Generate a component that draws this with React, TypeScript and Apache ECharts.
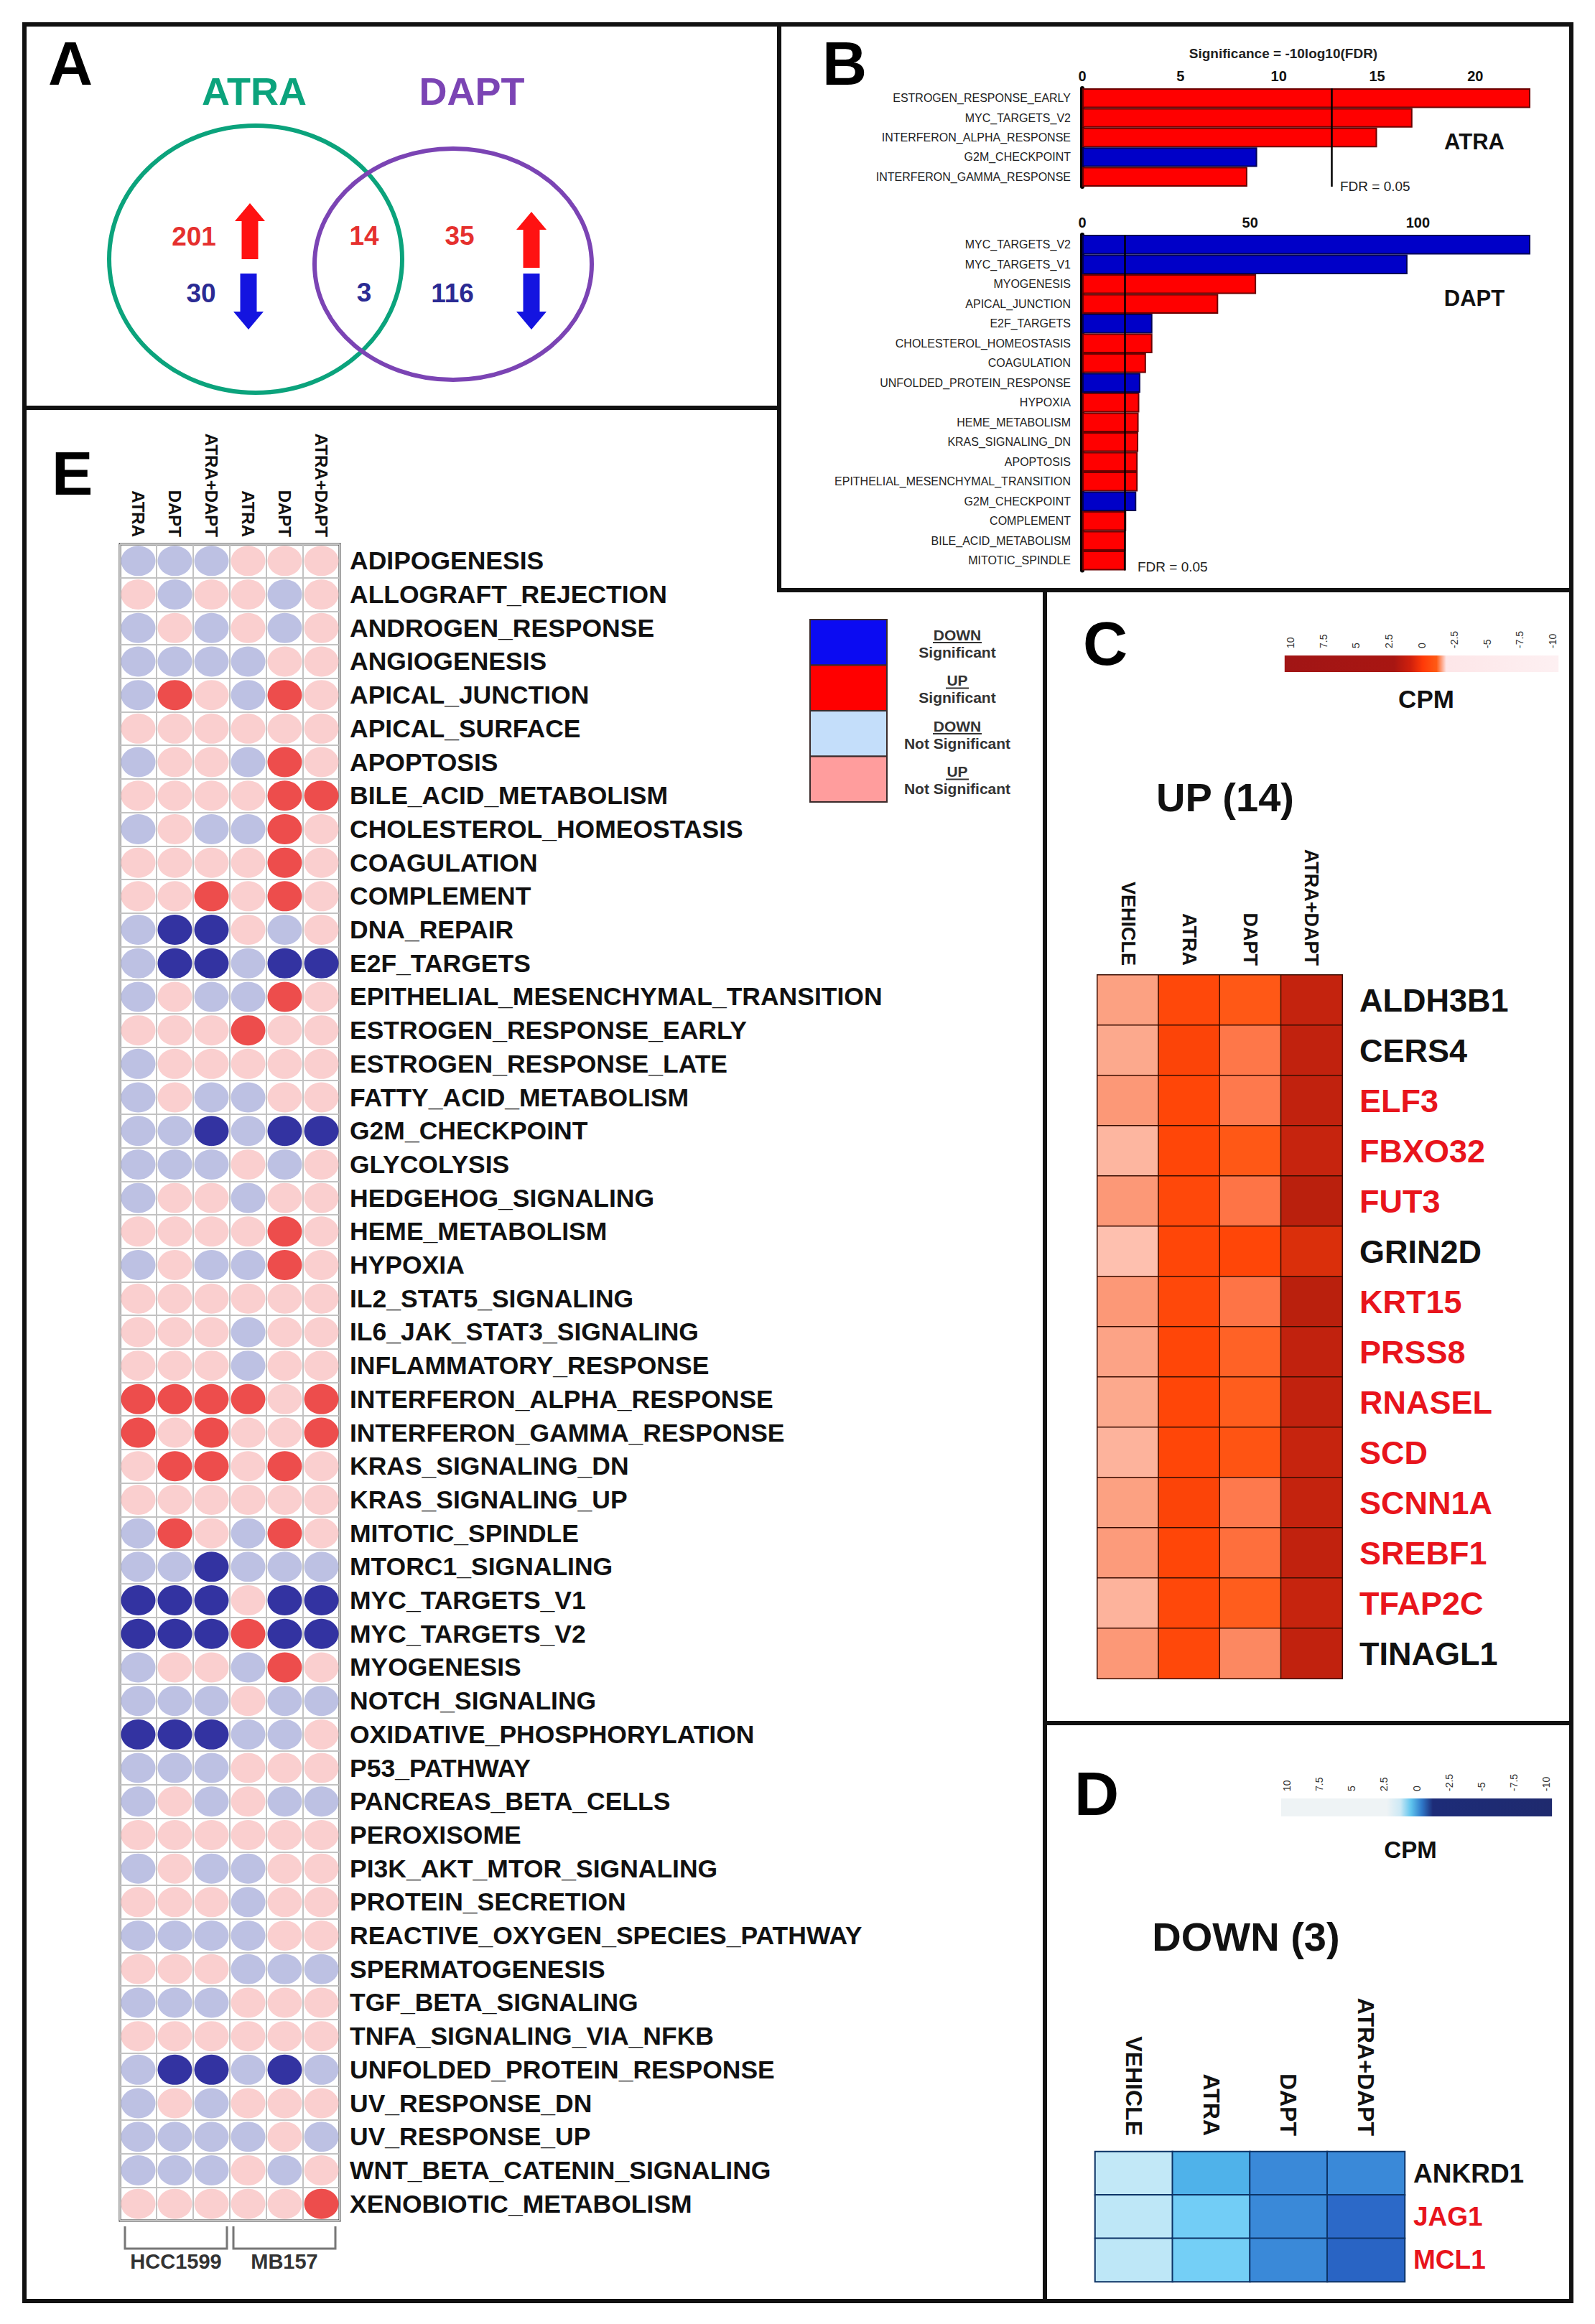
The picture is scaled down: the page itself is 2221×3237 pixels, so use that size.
import React, { useEffect, useRef } from "react";
import * as echarts from "echarts";

const SANS = "'Liberation Sans', Arial, Helvetica, sans-serif";

// ---------------- Panel A : Venn counts ----------------
const vennNames = ["ATRA", "DAPT"];
const vennUpCounts = [201, 14, 35]; // ATRA only, shared, DAPT only
const vennDownCounts = [30, 3, 116];

// ---------------- Panel B : enrichment significance ----------------
const atraTerms = [
  "ESTROGEN_RESPONSE_EARLY",
  "MYC_TARGETS_V2",
  "INTERFERON_ALPHA_RESPONSE",
  "G2M_CHECKPOINT",
  "INTERFERON_GAMMA_RESPONSE",
];
const atraSignificance = [22.8, 16.8, 15.0, 8.9, 8.4];
const atraDirection = ["up", "up", "up", "down", "up"];

const daptTerms = [
  "MYC_TARGETS_V2",
  "MYC_TARGETS_V1",
  "MYOGENESIS",
  "APICAL_JUNCTION",
  "E2F_TARGETS",
  "CHOLESTEROL_HOMEOSTASIS",
  "COAGULATION",
  "UNFOLDED_PROTEIN_RESPONSE",
  "HYPOXIA",
  "HEME_METABOLISM",
  "KRAS_SIGNALING_DN",
  "APOPTOSIS",
  "EPITHELIAL_MESENCHYMAL_TRANSITION",
  "G2M_CHECKPOINT",
  "COMPLEMENT",
  "BILE_ACID_METABOLISM",
  "MITOTIC_SPINDLE",
];
const daptSignificance = [133.5, 96.9, 51.8, 40.5, 20.9, 20.9, 19.0, 17.3, 17.0, 16.8, 16.7, 16.5, 16.5, 16.1, 13.1, 12.9, 12.8];
const daptDirection = ["down", "down", "up", "up", "down", "up", "up", "down", "up", "up", "up", "up", "up", "down", "up", "up", "up"];
const fdrThreshold = 12.7;

// ---------------- Panel E : hallmark status ----------------
const eColumns = ["ATRA", "DAPT", "ATRA+DAPT", "ATRA", "DAPT", "ATRA+DAPT"];
const cellLines = ["HCC1599", "MB157"];
const hallmarks = [
  "ADIPOGENESIS", "ALLOGRAFT_REJECTION", "ANDROGEN_RESPONSE", "ANGIOGENESIS", "APICAL_JUNCTION",
  "APICAL_SURFACE", "APOPTOSIS", "BILE_ACID_METABOLISM", "CHOLESTEROL_HOMEOSTASIS", "COAGULATION",
  "COMPLEMENT", "DNA_REPAIR", "E2F_TARGETS", "EPITHELIAL_MESENCHYMAL_TRANSITION", "ESTROGEN_RESPONSE_EARLY",
  "ESTROGEN_RESPONSE_LATE", "FATTY_ACID_METABOLISM", "G2M_CHECKPOINT", "GLYCOLYSIS", "HEDGEHOG_SIGNALING",
  "HEME_METABOLISM", "HYPOXIA", "IL2_STAT5_SIGNALING", "IL6_JAK_STAT3_SIGNALING", "INFLAMMATORY_RESPONSE",
  "INTERFERON_ALPHA_RESPONSE", "INTERFERON_GAMMA_RESPONSE", "KRAS_SIGNALING_DN", "KRAS_SIGNALING_UP", "MITOTIC_SPINDLE",
  "MTORC1_SIGNALING", "MYC_TARGETS_V1", "MYC_TARGETS_V2", "MYOGENESIS", "NOTCH_SIGNALING",
  "OXIDATIVE_PHOSPHORYLATION", "P53_PATHWAY", "PANCREAS_BETA_CELLS", "PEROXISOME", "PI3K_AKT_MTOR_SIGNALING",
  "PROTEIN_SECRETION", "REACTIVE_OXYGEN_SPECIES_PATHWAY", "SPERMATOGENESIS", "TGF_BETA_SIGNALING", "TNFA_SIGNALING_VIA_NFKB",
  "UNFOLDED_PROTEIN_RESPONSE", "UV_RESPONSE_DN", "UV_RESPONSE_UP", "WNT_BETA_CATENIN_SIGNALING", "XENOBIOTIC_METABOLISM",
];
// 0 = UP not significant, 1 = DOWN not significant, 2 = UP significant, 3 = DOWN significant
const hallmarkStates = [
  [1, 1, 1, 0, 0, 0], [0, 1, 0, 0, 1, 0], [1, 0, 1, 0, 1, 0], [1, 1, 1, 1, 0, 0], [1, 2, 0, 1, 2, 0],
  [0, 0, 0, 0, 0, 0], [1, 0, 0, 1, 2, 0], [0, 0, 0, 0, 2, 2], [1, 0, 1, 1, 2, 0], [0, 0, 0, 0, 2, 0],
  [0, 0, 2, 0, 2, 0], [1, 3, 3, 0, 1, 0], [1, 3, 3, 1, 3, 3], [1, 0, 1, 1, 2, 0], [0, 0, 0, 2, 0, 0],
  [1, 0, 0, 0, 0, 0], [1, 0, 1, 1, 0, 0], [1, 1, 3, 1, 3, 3], [1, 1, 1, 0, 1, 0], [1, 0, 0, 1, 0, 0],
  [0, 0, 0, 0, 2, 0], [1, 0, 1, 1, 2, 0], [0, 0, 0, 0, 0, 0], [0, 0, 0, 1, 0, 0], [0, 0, 0, 1, 0, 0],
  [2, 2, 2, 2, 0, 2], [2, 0, 2, 0, 0, 2], [0, 2, 2, 0, 2, 0], [0, 0, 0, 0, 0, 0], [1, 2, 0, 1, 2, 0],
  [1, 1, 3, 1, 1, 1], [3, 3, 3, 0, 3, 3], [3, 3, 3, 2, 3, 3], [1, 0, 0, 1, 2, 0], [1, 1, 1, 0, 1, 1],
  [3, 3, 3, 1, 1, 0], [1, 1, 1, 0, 0, 0], [1, 0, 1, 0, 1, 1], [0, 0, 0, 0, 0, 0], [1, 0, 1, 1, 0, 0],
  [0, 0, 0, 1, 0, 0], [1, 1, 1, 1, 0, 0], [0, 0, 0, 1, 1, 1], [1, 1, 1, 0, 0, 0], [0, 0, 0, 0, 0, 0],
  [1, 3, 3, 1, 3, 1], [1, 0, 1, 0, 0, 0], [1, 1, 1, 1, 0, 1], [1, 1, 1, 0, 1, 0], [0, 0, 0, 0, 0, 2],
];
const legendTop = ["DOWN", "UP", "DOWN", "UP"];
const legendBottom = ["Significant", "Significant", "Not Significant", "Not Significant"];

// ---------------- Panels C and D : expression heatmaps ----------------
const conditions = ["VEHICLE", "ATRA", "DAPT", "ATRA+DAPT"];
const upGenes = ["ALDH3B1", "CERS4", "ELF3", "FBXO32", "FUT3", "GRIN2D", "KRT15", "PRSS8", "RNASEL", "SCD", "SCNN1A", "SREBF1", "TFAP2C", "TINAGL1"];
const upGenesHighlighted = ["ELF3", "FBXO32", "FUT3", "KRT15", "PRSS8", "RNASEL", "SCD", "SCNN1A", "SREBF1", "TFAP2C"];
const upVehicle = [2.3, 2.0, 2.6, 1.5, 2.6, 1.1, 2.6, 2.2, 2.0, 1.6, 2.3, 2.5, 1.6, 2.6];
const upAtra = [5.9, 6.1, 6.0, 6.0, 5.9, 6.0, 5.9, 6.0, 6.0, 6.0, 6.1, 6.0, 5.9, 5.9];
const upDapt = [5.1, 3.9, 3.8, 5.1, 4.0, 6.0, 4.0, 4.7, 4.9, 5.3, 3.8, 4.2, 4.9, 3.2];
const upCombo = [8.1, 8.2, 8.2, 8.0, 8.5, 7.3, 8.5, 8.2, 8.2, 8.0, 8.1, 8.2, 8.0, 8.2];

const downGenes = ["ANKRD1", "JAG1", "MCL1"];
const downGenesHighlighted = ["JAG1", "MCL1"];
const downVehicle = [-1.0, -1.05, -1.05];
const downAtra = [-3.0, -2.1, -2.05];
const downDapt = [-4.0, -4.0, -4.0];
const downCombo = [-4.0, -4.9, -5.05];

const cpmBarExtent = [10.45, -10.45];

// ---------------- styles ----------------
const stateColors = ["#f9c3c3", "#adb2dc", "#e8211f", "#00008a"];
const legendColors = ["#0b0bf2", "#ff0000", "#c4defa", "#ff9d9d"];
const upScale = ["#fff2ee", "#fec3b3", "#fca98d", "#fc8d68", "#fe7446", "#ff5a18", "#ff4608", "#e2340a", "#c6240e", "#ad1b0c"];
const downScale = ["#1d48a6", "#2a65c6", "#3a89d8", "#4fb2ea", "#76d0f7", "#c2e8f7", "#e6f5fa"];

function txt(text: string, x: number, y: number, size: number, o: any = {}) {
  return {
    type: "text",
    x,
    y,
    z: 20,
    style: {
      text,
      fontSize: size,
      fontWeight: o.weight || "bold",
      fontFamily: SANS,
      fill: o.fill || "#111",
      align: o.align || "center",
      verticalAlign: "middle",
    },
  };
}

function line(x1: number, y1: number, x2: number, y2: number, stroke = "#111", w = 6) {
  return { type: "line", z: 30, shape: { x1, y1, x2, y2 }, style: { stroke, lineWidth: w, lineCap: "square" } };
}

function arrow(cx: number, top: number, bottom: number, up: boolean, fill: string) {
  const hh = 25, hw = 21, sw = 11.5;
  const pts = up
    ? [[cx, top], [cx + hw, top + hh], [cx + sw, top + hh], [cx + sw, bottom], [cx - sw, bottom], [cx - sw, top + hh], [cx - hw, top + hh]]
    : [[cx, bottom], [cx + hw, bottom - hh], [cx + sw, bottom - hh], [cx + sw, top], [cx - sw, top], [cx - sw, bottom - hh], [cx - hw, bottom - hh]];
  return { type: "polygon", z: 15, shape: { points: pts }, style: { fill } };
}

function buildOption() {
  const graphics: any[] = [];

  // panel borders
  graphics.push(
    line(34, 34, 2188, 34), line(34, 34, 34, 3205), line(2188, 34, 2188, 3205), line(34, 3205, 2188, 3205),
    line(34, 568, 1085, 568), line(1085, 34, 1085, 822), line(1085, 822, 2188, 822),
    line(1455, 822, 1455, 3205), line(1455, 2400, 2188, 2400)
  );
  // panel letters
  [["A", 67, 88], ["B", 1145, 88], ["E", 72, 659], ["C", 1508, 896], ["D", 1496, 2498]].forEach(([t, x, y]) =>
    graphics.push(txt(t as string, x as number, y as number, 86, { align: "left", fill: "#000" }))
  );

  // ---- Panel A Venn ----
  const vennColors = ["#0ba37c", "#7b44b4"];
  const vennTitlePos = [[354, 127], [657, 127]];
  const vennShapes = [{ cx: 356, cy: 361, rx: 204, ry: 186 }, { cx: 631, cy: 368, rx: 193, ry: 161 }];
  vennNames.forEach((n, i) => {
    graphics.push(txt(n, vennTitlePos[i][0], vennTitlePos[i][1], 54, { fill: vennColors[i] }));
    graphics.push({ type: "ellipse", z: 12, shape: vennShapes[i], style: { fill: "none", stroke: vennColors[i], lineWidth: 6 } });
  });
  const upPos = [[270, 329], [507, 328], [640, 328]];
  const downPos = [[280, 408], [507, 407], [630, 408]];
  vennUpCounts.forEach((v, i) => graphics.push(txt(String(v), upPos[i][0], upPos[i][1], 37, { fill: "#e5302e" })));
  vennDownCounts.forEach((v, i) => graphics.push(txt(String(v), downPos[i][0], downPos[i][1], 37, { fill: "#2b2b93" })));
  graphics.push(arrow(348, 283, 361, true, "#ff1212"), arrow(346, 381, 459, false, "#1414e0"));
  graphics.push(arrow(740, 295, 373, true, "#ff1212"), arrow(740, 381, 459, false, "#1414e0"));

  // ---- Panel B texts ----
  graphics.push(txt("Significance = -10log10(FDR)", 1787, 74, 19, { fill: "#222" }));
  graphics.push(txt("ATRA", 2053, 197, 31, { fill: "#111" }));
  graphics.push(txt("DAPT", 2053, 415, 31, { fill: "#111" }));
  graphics.push(txt("FDR = 0.05", 1866, 259, 19, { align: "left", weight: "normal", fill: "#222" }));
  graphics.push(txt("FDR = 0.05", 1584, 789, 19, { align: "left", weight: "normal", fill: "#222" }));

  // ---- Panel E legend ----
  const boxTop = 863, boxH = 63.5;
  legendColors.forEach((c, i) => {
    const y0 = boxTop + i * boxH;
    graphics.push({ type: "rect", z: 14, shape: { x: 1128, y: y0, width: 107, height: boxH }, style: { fill: c, stroke: "#3a2a2a", lineWidth: 2 } });
    graphics.push(txt(legendTop[i], 1333, y0 + 21, 21, { fill: "#333" }));
    const uw = legendTop[i] === "DOWN" ? 33 : 15;
    graphics.push(line(1333 - uw, y0 + 32, 1333 + uw, y0 + 32, "#333", 2));
    graphics.push(txt(legendBottom[i], 1333, y0 + 45, 21, { fill: "#333" }));
  });
  // cell line brackets
  const brackets = [[174, 316], [325, 467]];
  cellLines.forEach((n, i) => {
    const [a, b] = brackets[i];
    graphics.push({ type: "polyline", z: 14, shape: { points: [[a, 3101], [a, 3132], [b, 3132], [b, 3101]] }, style: { stroke: "#777", lineWidth: 3, fill: "none" } });
    graphics.push(txt(n, (a + b) / 2, 3150, 29, { fill: "#333" }));
  });

  // ---- Panel C / D titles ----
  graphics.push(txt("UP (14)", 1706, 1110, 56, { fill: "#111" }));
  graphics.push(txt("CPM", 1986, 973, 35, { fill: "#111" }));
  graphics.push(txt("DOWN (3)", 1735, 2697, 56, { fill: "#111" }));
  graphics.push(txt("CPM", 1964, 2576, 33, { fill: "#111" }));

  // ---- series data ----
  const barItems = (vals: number[], dirs: string[]) =>
    vals.map((v, i) => ({
      value: v,
      itemStyle: {
        color: dirs[i] === "up" ? "#ff0000" : "#0000c8",
        borderColor: dirs[i] === "up" ? "#6a0000" : "#000055",
        borderWidth: 2,
      },
    }));

  const eData: any[] = [];
  hallmarkStates.forEach((row, r) =>
    row.forEach((s, c) => eData.push({ value: [c, r], itemStyle: { color: stateColors[s] } }))
  );

  const upCols = [upVehicle, upAtra, upDapt, upCombo];
  const upData: any[] = [];
  upCols.forEach((col, c) => col.forEach((v, r) => upData.push([c, r, v])));
  const downCols = [downVehicle, downAtra, downDapt, downCombo];
  const downData: any[] = [];
  downCols.forEach((col, c) => col.forEach((v, r) => downData.push([c, r, v])));

  const fmtEvery = (step: number) => (v: number) => (Math.abs(v / step - Math.round(v / step)) < 1e-9 ? String(v) : "");

  const bYAxis = (terms: string[], gi: number) => ({
    type: "category",
    gridIndex: gi,
    data: terms,
    inverse: true,
    axisLine: { show: true, lineStyle: { color: "#000", width: 6 } },
    axisTick: { show: false },
    axisLabel: { interval: 0, margin: 16, fontFamily: SANS, fontSize: 16, color: "#222" },
  });
  const bXAxis = (gi: number, max: number, interval: number) => ({
    type: "value",
    gridIndex: gi,
    position: "top",
    min: 0,
    max,
    interval,
    axisLine: { show: false },
    axisTick: { show: false },
    splitLine: { show: false },
    axisLabel: { margin: 7, fontFamily: SANS, fontWeight: "bold", fontSize: 20, color: "#111", formatter: fmtEvery(interval) },
  });
  const cbXAxis = (gi: number) => ({
    type: "value",
    gridIndex: gi,
    position: "top",
    min: -10,
    max: 10,
    interval: 2.5,
    inverse: true,
    axisLine: { show: false },
    axisTick: { show: false },
    splitLine: { show: false },
    axisLabel: { rotate: 90, margin: 10, fontSize: 14, fontFamily: SANS, color: "#333" },
  });
  const colorbar = (xi: number, stops: any[]) => ({
    type: "custom",
    xAxisIndex: xi,
    yAxisIndex: xi,
    data: [cpmBarExtent],
    renderItem: (params: any, api: any) => {
      const p0 = api.coord([api.value(0), 1]);
      const p1 = api.coord([api.value(1), 0]);
      return {
        type: "rect",
        shape: { x: p0[0], y: p0[1], width: p1[0] - p0[0], height: p1[1] - p0[1] },
        style: { fill: new echarts.graphic.LinearGradient(0, 0, 1, 0, stops) },
      };
    },
  });
  const cbYAxis = (gi: number) => ({ type: "value", gridIndex: gi, min: 0, max: 1, show: false });

  return {
    animation: false,
    backgroundColor: "#ffffff",
    textStyle: { fontFamily: SANS },
    grid: [
      { left: 1507, top: 123, width: 624, height: 137 },
      { left: 1507, top: 327, width: 624, height: 467.5 },
      { left: 167, top: 758, width: 306, height: 2335, show: true, backgroundColor: "#fff", borderColor: "#333", borderWidth: 3 },
      { left: 1528, top: 1358, width: 341, height: 980, show: true, borderColor: "#2a0800", borderWidth: 2 },
      { left: 1525, top: 2997, width: 431, height: 181, show: true, borderColor: "#0c2f60", borderWidth: 2 },
      { left: 1797, top: 913, width: 365, height: 23 },
      { left: 1792, top: 2505, width: 361, height: 25 },
    ],
    xAxis: [
      bXAxis(0, 22.8, 5),
      bXAxis(1, 133.5, 50),
      {
        type: "category",
        gridIndex: 2,
        position: "top",
        data: eColumns,
        axisLine: { show: false },
        axisTick: { show: false },
        splitLine: { show: true, interval: 0, lineStyle: { color: "#c2c2c2", width: 2 } },
        axisLabel: { interval: 0, rotate: 90, margin: 10, fontFamily: SANS, fontWeight: "bold", fontSize: 24, color: "#111" },
      },
      {
        type: "category",
        gridIndex: 3,
        position: "top",
        data: conditions,
        axisLine: { show: false },
        axisTick: { show: false },
        axisLabel: { interval: 0, rotate: 90, margin: 13, fontFamily: SANS, fontWeight: "bold", fontSize: 27, color: "#111" },
      },
      {
        type: "category",
        gridIndex: 4,
        position: "top",
        data: conditions,
        axisLine: { show: false },
        axisTick: { show: false },
        axisLabel: { interval: 0, rotate: 90, margin: 22, fontFamily: SANS, fontWeight: "bold", fontSize: 32, color: "#111" },
      },
      cbXAxis(5),
      cbXAxis(6),
    ],
    yAxis: [
      bYAxis(atraTerms, 0),
      bYAxis(daptTerms, 1),
      {
        type: "category",
        gridIndex: 2,
        position: "right",
        data: hallmarks,
        inverse: true,
        axisLine: { show: false },
        axisTick: { show: false },
        splitLine: { show: true, interval: 0, lineStyle: { color: "#c2c2c2", width: 2 } },
        axisLabel: { interval: 0, margin: 14, fontWeight: "bold", fontSize: 35.5, color: "#111", fontFamily: SANS },
      },
      {
        type: "category",
        gridIndex: 3,
        position: "right",
        data: upGenes,
        inverse: true,
        axisLine: { show: false },
        axisTick: { show: false },
        axisLabel: {
          interval: 0,
          margin: 24,
          fontWeight: "bold",
          fontSize: 45,
          fontFamily: SANS,
          color: (v: string) => (upGenesHighlighted.indexOf(v) >= 0 ? "#e8141c" : "#111"),
        },
      },
      {
        type: "category",
        gridIndex: 4,
        position: "right",
        data: downGenes,
        inverse: true,
        axisLine: { show: false },
        axisTick: { show: false },
        axisLabel: {
          interval: 0,
          margin: 12,
          fontWeight: "bold",
          fontSize: 37,
          fontFamily: SANS,
          color: (v: string) => (downGenesHighlighted.indexOf(v) >= 0 ? "#e8141c" : "#111"),
        },
      },
      cbYAxis(5),
      cbYAxis(6),
    ],
    visualMap: [
      { type: "continuous", show: false, seriesIndex: 3, dimension: 2, min: 0, max: 9, inRange: { color: upScale } },
      { type: "continuous", show: false, seriesIndex: 4, dimension: 2, min: -6, max: 0, inRange: { color: downScale } },
    ],
    series: [
      {
        type: "bar",
        xAxisIndex: 0,
        yAxisIndex: 0,
        barCategoryGap: "0%",
        data: barItems(atraSignificance, atraDirection),
        markLine: { silent: true, symbol: "none", label: { show: false }, lineStyle: { color: "#000", width: 2.5, type: "solid" }, data: [{ xAxis: fdrThreshold }] },
      },
      {
        type: "bar",
        xAxisIndex: 1,
        yAxisIndex: 1,
        barCategoryGap: "0%",
        data: barItems(daptSignificance, daptDirection),
        markLine: { silent: true, symbol: "none", label: { show: false }, lineStyle: { color: "#000", width: 2.5, type: "solid" }, data: [{ xAxis: fdrThreshold }] },
      },
      {
        type: "scatter",
        xAxisIndex: 2,
        yAxisIndex: 2,
        symbol: "circle",
        symbolSize: [48, 42],
        data: eData,
      },
      {
        type: "heatmap",
        xAxisIndex: 3,
        yAxisIndex: 3,
        data: upData,
        itemStyle: { borderColor: "#3a0c00", borderWidth: 1.5 },
      },
      {
        type: "heatmap",
        xAxisIndex: 4,
        yAxisIndex: 4,
        data: downData,
        itemStyle: { borderColor: "#0c3366", borderWidth: 2 },
      },
      colorbar(5, [
        { offset: 0, color: "#a11515" },
        { offset: 0.4, color: "#a81612" },
        { offset: 0.46, color: "#d0200c" },
        { offset: 0.505, color: "#ff3a08" },
        { offset: 0.555, color: "#ff5a14" },
        { offset: 0.59, color: "#fde6e8" },
        { offset: 1, color: "#fdf0f2" },
      ]),
      colorbar(6, [
        { offset: 0, color: "#eef3f5" },
        { offset: 0.39, color: "#eef3f5" },
        { offset: 0.44, color: "#cde9f5" },
        { offset: 0.48, color: "#5fc4ee" },
        { offset: 0.52, color: "#2f78c8" },
        { offset: 0.56, color: "#1d2c78" },
        { offset: 1, color: "#1f2a6e" },
      ]),
    ],
    graphic: graphics,
  };
}

export default function App() {
  const ref = useRef<HTMLDivElement>(null);
  useEffect(() => {
    document.body.style.margin = "0";
    const chart = echarts.init(ref.current as HTMLDivElement, null, { renderer: "svg", width: 2221, height: 3237 });
    chart.setOption(buildOption() as any);
    return () => chart.dispose();
  }, []);
  return <div ref={ref} style={{ width: 2221, height: 3237, background: "#fff" }} />;
}
